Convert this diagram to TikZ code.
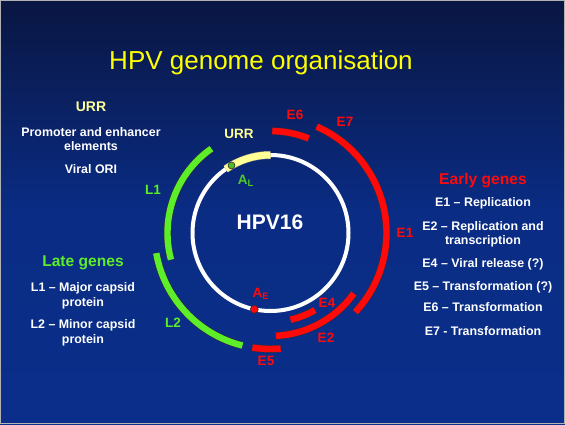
\documentclass[tikz,border=0pt]{standalone}
\usepackage{fontspec}
\setmainfont{Liberation Sans}
\usetikzlibrary{positioning}
\definecolor{slideTop}{RGB}{10, 22, 66}
\definecolor{slideMid}{RGB}{10, 44, 132}
\definecolor{slideBottom}{RGB}{10, 46, 138}
\definecolor{geneRed}{RGB}{255, 10, 10}
\definecolor{geneGreen}{RGB}{92, 238, 40}
\definecolor{urrYellow}{RGB}{255, 255, 150}
\definecolor{titleYellow}{RGB}{255, 255, 0}
\definecolor{bandEdge}{RGB}{60, 40, 50}

\begin{document}
\begin{tikzpicture} [
        x=1pt, y=1pt,
        txt/.style={text=white, font=\bfseries\fontsize{12.4}{14}\selectfont, align=center, inner sep=0},
        head/.style={font=\bfseries\fontsize{15.6}{18}\selectfont, inner sep=0},
        lbl/.style={font=\bfseries\fontsize{13.5}{15}\selectfont, inner sep=0},
        band/.style={double=#1, double distance=6.4pt, draw=bandEdge, line width=0.5pt}
    ]

    % slide background
    \shade[top color=slideTop, bottom color=slideBottom, middle color=slideMid]
        (0,0) rectangle (565,424);
    \draw[gray!60, line width=1pt] (0.5,0.5) rectangle (564.5,423.5);
    \useasboundingbox (0,0) rectangle (565,424);

    \node[text=titleYellow, font=\fontsize{26}{30}\selectfont, inner sep=0] (title) at (261,361) {HPV genome organisation};

    % genome
    \coordinate (c) at (270.5,191);
    \draw[white, line width=4pt] (c) circle[radius=78];
    \draw[double=urrYellow, double distance=7pt, draw=gray, line width=0.5pt]
        (c) ++(90:78) arc[start angle=90, end angle=125, radius=78];

    \foreach \a/\b/\r/\col in {125/195/103/geneGreen, 190/256/116/geneGreen,
                               261/275/116/geneRed, 273/324/103/geneRed,
                               283/300/89/geneRed, -43/50/116/geneRed,
                               50/66.5/116/geneRed, 68/89/102/geneRed} {
        \draw[band=\col] (c) ++(\a:\r) arc[start angle=\a, end angle=\b, radius=\r];
    }

    \filldraw[fill=geneGreen!80!black, draw=bandEdge, line width=0.6pt] (c) ++(120:78) circle[radius=3.5] coordinate (al dot);
    \filldraw[fill=geneRed, draw=bandEdge, line width=0.6pt] (c) ++(258:78) circle[radius=4] coordinate (ae dot);

    \node[text=white, font=\bfseries\fontsize{21}{24}\selectfont, inner sep=0] (hpv) at (270,202) {HPV16};

    % gene labels
    \node[lbl, text=geneRed] (lbl e6) at (295,309) {E6};
    \node[lbl, text=geneRed] (lbl e7) at (345,302) {E7};
    \node[lbl, text=geneRed] (lbl e1) at (405,191) {E1};
    \node[lbl, text=geneRed] (lbl e4) at (327,121) {E4};
    \node[lbl, text=geneRed] (lbl e2) at (326,86) {E2};
    \node[lbl, text=geneRed] (lbl e5) at (266,63) {E5};
    \node[lbl, text=geneGreen] (lbl l2) at (173,101) {L2};
    \node[lbl, text=geneGreen] (lbl l1) at (153,234) {L1};
    \node[lbl, text=urrYellow] (lbl urr) at (239,290) {URR};
    \node[lbl, text=geneGreen!85!black] (lbl al) at (246,243) {A\textsubscript{L}};
    \node[lbl, text=geneRed] (lbl ae) at (261,130) {A\textsubscript{E}};

    % left column
    \node[head, text=urrYellow, font=\bfseries\fontsize{14}{16}\selectfont] (urr head) at (91,317) {URR};
    \node[txt] (urr promoter) at (91,285) {Promoter and enhancer\\elements};
    \node[txt] (urr ori) at (91,255) {Viral ORI};

    \node[head, text=geneGreen] (late head) at (83,161) {Late genes};
    \node[txt, font=\bfseries\fontsize{12.4}{15}\selectfont] (late l1) at (83,128.5) {L1 -- Major capsid\\protein};
    \node[txt, font=\bfseries\fontsize{12.4}{15}\selectfont] (late l2) at (83,91) {L2 -- Minor capsid\\protein};

    % right column
    \node[head, text=geneRed] (early head) at (483,244) {Early genes};
    \node[txt] (early e1) at (483,221) {E1 -- Replication};
    \node[txt] (early e2) at (483,190) {E2 -- Replication and\\transcription};
    \node[txt] (early e4) at (483,160) {E4 -- Viral release (?)};
    \node[txt] (early e5) at (483,137) {E5 -- Transformation (?)};
    \node[txt] (early e6) at (483,117) {E6 -- Transformation};
    \node[txt] (early e7) at (483,93) {E7 - Transformation};

\end{tikzpicture}
\end{document}
